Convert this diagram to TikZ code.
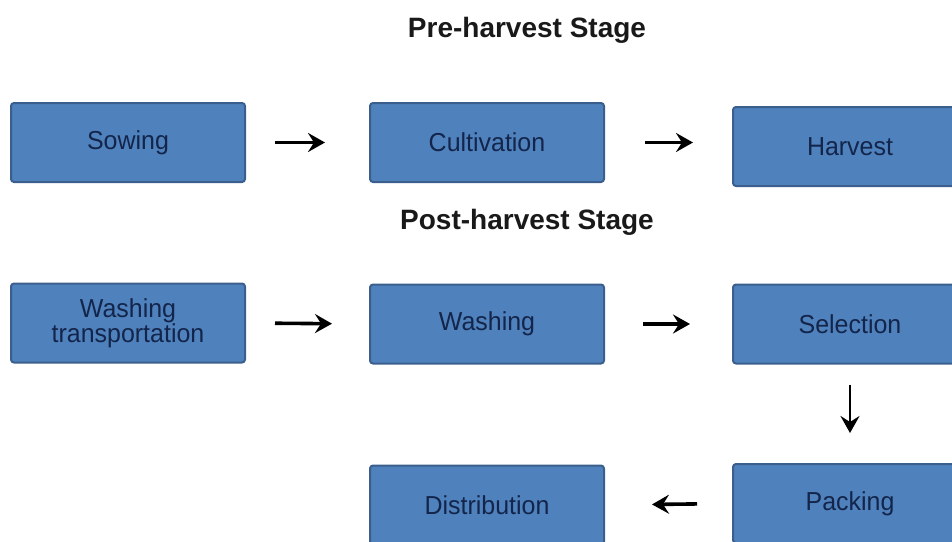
\documentclass[tikz,border=0pt]{standalone}
\usepackage{fontspec}
\setmainfont{Liberation Sans}
\usepackage{tikz}
\usetikzlibrary{arrows.meta,positioning,calc}
\definecolor{boxfill}{HTML}{4F81BD}
\definecolor{boxedge}{HTML}{3A5F8C}
\definecolor{boxtext}{HTML}{13254A}

\begin{document}
\begin{tikzpicture}[x=1pt,y=-1pt,
  stagebox/.style={draw=boxedge,line width=2pt,fill=boxfill,rounded corners=3pt,
    minimum width=234pt,minimum height=79pt,inner sep=0pt,text=boxtext,
    align=center,font=\fontsize{26}{23}\selectfont\addfontfeature{FakeStretch=0.96}},
  flow/.style={-{Stealth[length=17pt,width=19pt,inset=6pt]},line width=3.6pt,black},
  stagetitle/.style={font=\fontsize{28}{28}\selectfont\bfseries,text=black!90}]
  \useasboundingbox (0,0) rectangle (952,541);
  \clip (0,0) rectangle (952,541);
  \node[stagetitle] (pretitle) at (527,30) {Pre-harvest Stage};
  \node[stagetitle] (posttitle) at (527,222) {Post-harvest Stage};
  \node[stagebox] (sowing) at (128,142.5) {Sowing};
  \node[stagebox] (cultivation) at (487,142.5) {Cultivation};
  \node[stagebox] (harvest) at (850,146.5) {Harvest};
  \node[stagebox] (transport) at (128,323) {Washing\\transportation};
  \node[stagebox] (washing) at (487,324) {Washing};
  \node[stagebox] (selection) at (850,324) {Selection};
  \node[stagebox] (packing) at (850,503.5) {Packing};
  \node[stagebox] (distribution) at (487,505) {Distribution};
  \draw[flow,line width=3pt,shorten <=29pt,shorten >=44pt]
    (sowing.east) -- (cultivation.west);
  \draw[flow,line width=3pt,shorten <=40pt,shorten >=39pt]
    (cultivation.east) -- (cultivation.east -| harvest.west);
  \draw[flow,shorten <=29pt,shorten >=37pt] (transport.east) -- (washing.west);
  \draw[flow,shorten <=38pt,shorten >=42pt] (washing.east) -- (selection.west);
  \draw[flow,line width=2.6pt,shorten <=20pt,shorten >=30pt]
    (selection.south) -- (packing.north);
  \draw[flow,shorten <=35pt,shorten >=47pt] (packing.west) -- (distribution.east);
\end{tikzpicture}
\end{document}
